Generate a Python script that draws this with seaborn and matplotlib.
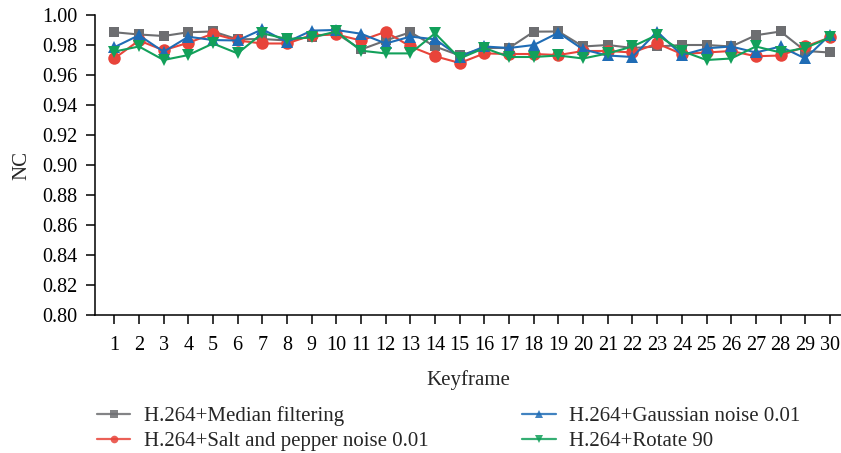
import matplotlib
matplotlib.use("Agg")
import matplotlib.pyplot as plt
import seaborn as sns
import pandas as pd
from matplotlib.lines import Line2D

keyframes = list(range(1, 31))

median_filtering = [0.9885, 0.987, 0.986, 0.9885, 0.989, 0.9838, 0.984, 0.983, 0.9856, 0.9878,
                    0.977, 0.983, 0.9885, 0.979, 0.973, 0.978, 0.978, 0.9889, 0.989, 0.979,
                    0.980, 0.978, 0.979, 0.980, 0.980, 0.979, 0.9865, 0.989, 0.976, 0.975]
salt_pepper = [0.971, 0.983, 0.9765, 0.9815, 0.9875, 0.983, 0.981, 0.981, 0.9865, 0.987,
               0.983, 0.9888, 0.979, 0.9725, 0.968, 0.9744, 0.974, 0.974, 0.9733, 0.976,
               0.976, 0.975, 0.981, 0.974, 0.975, 0.976, 0.9725, 0.973, 0.979, 0.985]
gaussian = [0.9785, 0.9865, 0.9755, 0.9855, 0.9833, 0.983, 0.9905, 0.982, 0.9896, 0.990,
            0.9875, 0.981, 0.9856, 0.9838, 0.9722, 0.979, 0.978, 0.980, 0.9882, 0.977,
            0.973, 0.972, 0.9889, 0.9733, 0.9778, 0.979, 0.975, 0.979, 0.971, 0.9867]
rotate_90 = [0.9756, 0.979, 0.970, 0.9733, 0.981, 0.9744, 0.9878, 0.984, 0.985, 0.989,
             0.9762, 0.9744, 0.9744, 0.9878, 0.971, 0.978, 0.972, 0.972, 0.973, 0.971,
             0.9744, 0.979, 0.9867, 0.976, 0.970, 0.971, 0.979, 0.975, 0.978, 0.985]

series_names = ["H.264+Median filtering", "H.264+Salt and pepper noise 0.01",
                "H.264+Gaussian noise 0.01", "H.264+Rotate 90"]
series_values = [median_filtering, salt_pepper, gaussian, rotate_90]
colors = ["#6d6e71", "#e8443a", "#1f6cb5", "#12a05a"]
markers = ["s", "o", "^", "v"]
marker_sizes = [7.5, 9.0, 9.0, 9.0]

y_ticks = [0.80, 0.82, 0.84, 0.86, 0.88, 0.90, 0.92, 0.94, 0.96, 0.98, 1.00]

sns.set_theme(style="ticks")
plt.rcParams["font.family"] = ["Liberation Serif", "DejaVu Serif"]

fig = plt.figure(figsize=(8.41, 4.53), dpi=100)
ax = fig.add_axes([0.113, 0.3046, 0.887, 0.6623])

for name, vals, c, m, ms in zip(series_names, series_values, colors, markers, marker_sizes):
    df = pd.DataFrame({"Keyframe": keyframes, "NC": vals})
    sns.lineplot(data=df, x="Keyframe", y="NC", ax=ax, color=c, marker=m,
                 markersize=ms, markeredgewidth=0, linewidth=1.5, legend=False)

ax.set_xlim(0.22, 30.45)
ax.set_ylim(0.80, 1.00)
ax.set_xticks(keyframes)
ax.set_xticklabels([str(k) for k in keyframes])
ax.set_yticks(y_ticks)
ax.set_yticklabels([f"{v:.2f}" for v in y_ticks])
ax.tick_params(axis="both", direction="out", length=6.5, width=1.1, labelsize=14.5,
               colors="black", pad=6)
ax.tick_params(axis="x", pad=8.5)
for side in ("top", "right"):
    ax.spines[side].set_visible(False)
for side in ("left", "bottom"):
    ax.spines[side].set_linewidth(1.1)
    ax.spines[side].set_color("black")

ax.set_xlabel("Keyframe", fontsize=15, labelpad=11)
ax.set_ylabel("NC", fontsize=15, labelpad=8)

handles = [Line2D([0], [0], color=c, marker=m, markersize=5.5, markeredgewidth=0,
                  linewidth=1.6, alpha=0.85) for c, m in zip(colors, markers)]
fig.legend(handles, series_names,
           ncol=2, loc="upper left", bbox_to_anchor=(0.1153, 0.104), frameon=False,
           fontsize=15, handlelength=1.6, handletextpad=0.65, columnspacing=4.5,
           labelspacing=0.26, borderaxespad=0, borderpad=0)

fig.savefig("out.png", dpi=100)
